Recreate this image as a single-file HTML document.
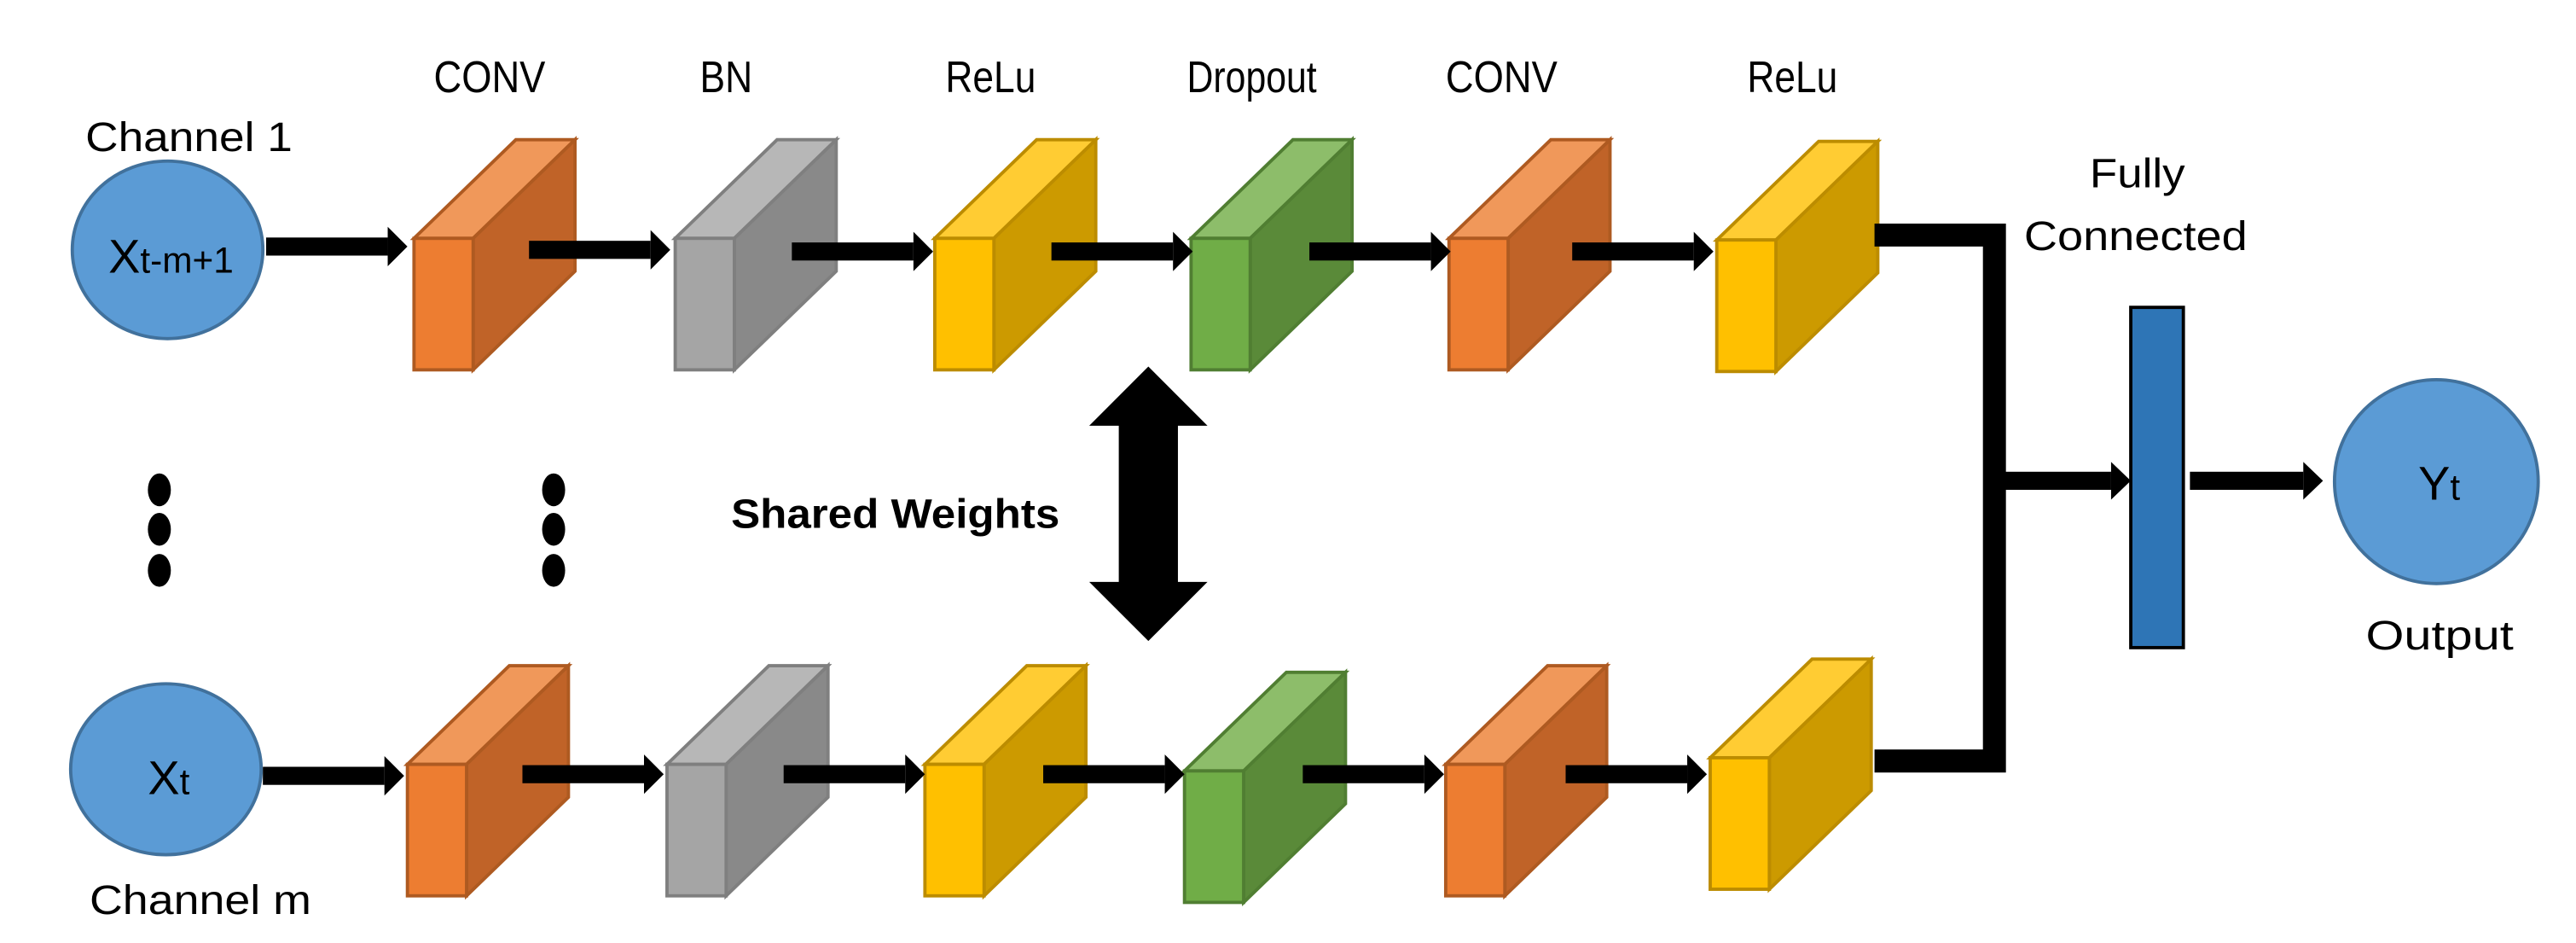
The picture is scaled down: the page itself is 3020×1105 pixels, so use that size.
<!DOCTYPE html>
<html><head><meta charset="utf-8"><style>
html,body{margin:0;padding:0;background:#fff;}
svg{display:block;}
text{font-family:"Liberation Sans",sans-serif;fill:#000;}
</style></head><body>
<svg width="3020" height="1105" viewBox="0 0 1568 573.7" preserveAspectRatio="none" xmlns="http://www.w3.org/2000/svg">
<defs>
<g id="bo"><polygon points="0,60 62,0 98,0 36,60" fill="#F0985A" stroke="#AE5A21" stroke-width="2"/><polygon points="36,60 98,0 98,80 36,140" fill="#C06328" stroke="#AE5A21" stroke-width="2"/><rect x="0" y="60" width="36" height="80" fill="#ED7D31" stroke="#AE5A21" stroke-width="2"/></g>
<g id="bg"><polygon points="0,60 62,0 98,0 36,60" fill="#B7B7B7" stroke="#7F7F7F" stroke-width="2"/><polygon points="36,60 98,0 98,80 36,140" fill="#898989" stroke="#7F7F7F" stroke-width="2"/><rect x="0" y="60" width="36" height="80" fill="#A5A5A5" stroke="#7F7F7F" stroke-width="2"/></g>
<g id="by"><polygon points="0,60 62,0 98,0 36,60" fill="#FFCC33" stroke="#BC8C00" stroke-width="2"/><polygon points="36,60 98,0 98,80 36,140" fill="#CC9A00" stroke="#BC8C00" stroke-width="2"/><rect x="0" y="60" width="36" height="80" fill="#FFC000" stroke="#BC8C00" stroke-width="2"/></g>
<g id="bgr"><polygon points="0,60 62,0 98,0 36,60" fill="#8DBD6A" stroke="#507E32" stroke-width="2"/><polygon points="36,60 98,0 98,80 36,140" fill="#5A8A39" stroke="#507E32" stroke-width="2"/><rect x="0" y="60" width="36" height="80" fill="#70AD47" stroke="#507E32" stroke-width="2"/></g>
<g id="ar"><rect x="0" y="-5.5" width="74" height="11" fill="#000"/><polygon points="74,-12 86,0 74,12" fill="#000"/></g>
</defs>

<g font-size="27" text-anchor="middle">
<text x="298" y="56" textLength="68" lengthAdjust="spacingAndGlyphs">CONV</text>
<text x="442" y="56" textLength="32" lengthAdjust="spacingAndGlyphs">BN</text>
<text x="603" y="56" textLength="55" lengthAdjust="spacingAndGlyphs">ReLu</text>
<text x="762" y="56" textLength="79" lengthAdjust="spacingAndGlyphs">Dropout</text>
<text x="914" y="56" textLength="68" lengthAdjust="spacingAndGlyphs">CONV</text>
<text x="1091" y="56" textLength="55" lengthAdjust="spacingAndGlyphs">ReLu</text>
</g>
<g font-size="25" text-anchor="middle">
<text x="115" y="92" textLength="126" lengthAdjust="spacingAndGlyphs">Channel 1</text>
<text x="122" y="556" textLength="135" lengthAdjust="spacingAndGlyphs">Channel m</text>
<text x="1301" y="114" textLength="58" lengthAdjust="spacingAndGlyphs">Fully</text>
<text x="1300" y="152" textLength="136" lengthAdjust="spacingAndGlyphs">Connected</text>
<text x="1485" y="395" textLength="90" lengthAdjust="spacingAndGlyphs">Output</text>
<text x="545" y="321" font-weight="bold" textLength="200" lengthAdjust="spacingAndGlyphs">Shared Weights</text>
</g>

<ellipse cx="102" cy="152" rx="58" ry="54" fill="#5B9BD5" stroke="#41719C" stroke-width="2"/>
<text x="66" y="166" font-size="29">X<tspan font-size="22">t-m+1</tspan></text>
<ellipse cx="101" cy="468" rx="58" ry="52" fill="#5B9BD5" stroke="#41719C" stroke-width="2"/>
<text x="90" y="483" font-size="29">X<tspan font-size="22">t</tspan></text>

<g fill="#000">
<ellipse cx="97" cy="298" rx="7" ry="10"/><ellipse cx="97" cy="322" rx="7" ry="10"/><ellipse cx="97" cy="347" rx="7" ry="10"/>
<ellipse cx="337" cy="298" rx="7" ry="10"/><ellipse cx="337" cy="322" rx="7" ry="10"/><ellipse cx="337" cy="347" rx="7" ry="10"/>
</g>

<use href="#bo" transform="translate(252,85)"/>
<use href="#bg" transform="translate(411,85)"/>
<use href="#by" transform="translate(569,85)"/>
<use href="#bgr" transform="translate(725,85)"/>
<use href="#bo" transform="translate(882,85)"/>
<use href="#by" transform="translate(1045,86)"/>

<use href="#bo" transform="translate(248,405)"/>
<use href="#bg" transform="translate(406,405)"/>
<use href="#by" transform="translate(563,405)"/>
<use href="#bgr" transform="translate(721,409)"/>
<use href="#bo" transform="translate(880,405)"/>
<use href="#by" transform="translate(1041,401)"/>

<use href="#ar" transform="translate(162,150)"/>
<use href="#ar" transform="translate(322,152)"/>
<use href="#ar" transform="translate(482,153)"/>
<use href="#ar" transform="translate(640,153)"/>
<use href="#ar" transform="translate(797,153)"/>
<use href="#ar" transform="translate(957,153)"/>
<use href="#ar" transform="translate(160,472)"/>
<use href="#ar" transform="translate(318,471)"/>
<use href="#ar" transform="translate(477,471)"/>
<use href="#ar" transform="translate(635,471)"/>
<use href="#ar" transform="translate(793,471)"/>
<use href="#ar" transform="translate(953,471)"/>

<path d="M1141,143 H1214 V463 H1141" fill="none" stroke="#000" stroke-width="14"/>
<rect x="1214" y="287" width="71" height="11" fill="#000"/>
<polygon points="1285,281 1297,292.5 1285,304" fill="#000"/>

<rect x="1297" y="187" width="32" height="207" fill="#2E75B6" stroke="#000" stroke-width="2"/>
<rect x="1333" y="287" width="69" height="11" fill="#000"/>
<polygon points="1402,281 1414,292.5 1402,304" fill="#000"/>

<ellipse cx="1483" cy="293" rx="62" ry="62" fill="#5B9BD5" stroke="#41719C" stroke-width="2"/>
<text x="1472" y="304" font-size="29">Y<tspan font-size="22">t</tspan></text>

<polygon points="699,223 735,259 717,259 717,354 735,354 699,390 663,354 681,354 681,259 663,259" fill="#000"/>
</svg>
</body></html>
